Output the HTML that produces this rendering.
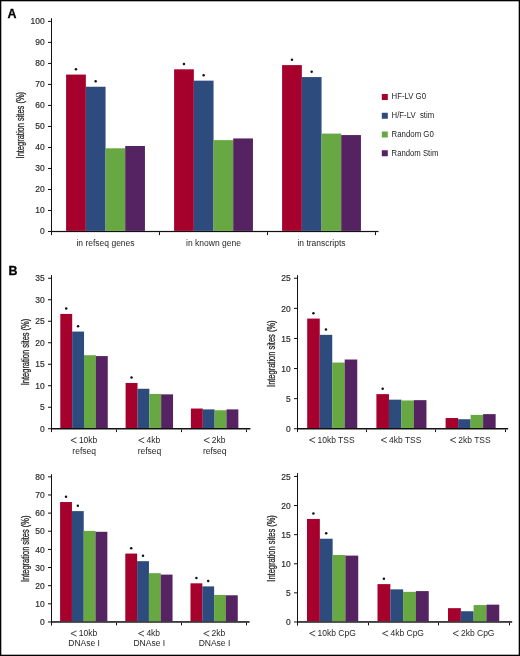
<!DOCTYPE html>
<html><head><meta charset="utf-8"><title>Figure</title>
<style>
html,body{margin:0;padding:0;background:#fff;}
body{width:520px;height:656px;overflow:hidden;position:relative;}
svg{filter:blur(0.35px);position:absolute;left:0;top:0;display:block;font-family:"Liberation Sans", sans-serif;}
</style></head>
<body>
<svg width="520" height="656" viewBox="0 0 520 656">
<rect x="0" y="0" width="520" height="656" fill="#fff"/>
<rect x="51.00" y="18.20" width="1.00" height="216.70" fill="#111"/>
<rect x="51.00" y="230.90" width="327.50" height="1.20" fill="#111"/>
<rect x="48.00" y="231.00" width="3.00" height="1.00" fill="#111"/>
<text x="0" y="0" font-size="9" text-anchor="end" fill="#2a2a2a" stroke="#2a2a2a" stroke-width="0.18" transform="translate(44.70,234.00) scale(0.94,1)">0</text>
<rect x="48.00" y="209.99" width="3.00" height="1.00" fill="#111"/>
<text x="0" y="0" font-size="9" text-anchor="end" fill="#2a2a2a" stroke="#2a2a2a" stroke-width="0.18" transform="translate(44.70,212.99) scale(0.94,1)">10</text>
<rect x="48.00" y="188.98" width="3.00" height="1.00" fill="#111"/>
<text x="0" y="0" font-size="9" text-anchor="end" fill="#2a2a2a" stroke="#2a2a2a" stroke-width="0.18" transform="translate(44.70,191.98) scale(0.94,1)">20</text>
<rect x="48.00" y="167.97" width="3.00" height="1.00" fill="#111"/>
<text x="0" y="0" font-size="9" text-anchor="end" fill="#2a2a2a" stroke="#2a2a2a" stroke-width="0.18" transform="translate(44.70,170.97) scale(0.94,1)">30</text>
<rect x="48.00" y="146.96" width="3.00" height="1.00" fill="#111"/>
<text x="0" y="0" font-size="9" text-anchor="end" fill="#2a2a2a" stroke="#2a2a2a" stroke-width="0.18" transform="translate(44.70,149.96) scale(0.94,1)">40</text>
<rect x="48.00" y="125.95" width="3.00" height="1.00" fill="#111"/>
<text x="0" y="0" font-size="9" text-anchor="end" fill="#2a2a2a" stroke="#2a2a2a" stroke-width="0.18" transform="translate(44.70,128.95) scale(0.94,1)">50</text>
<rect x="48.00" y="104.94" width="3.00" height="1.00" fill="#111"/>
<text x="0" y="0" font-size="9" text-anchor="end" fill="#2a2a2a" stroke="#2a2a2a" stroke-width="0.18" transform="translate(44.70,107.94) scale(0.94,1)">60</text>
<rect x="48.00" y="83.93" width="3.00" height="1.00" fill="#111"/>
<text x="0" y="0" font-size="9" text-anchor="end" fill="#2a2a2a" stroke="#2a2a2a" stroke-width="0.18" transform="translate(44.70,86.93) scale(0.94,1)">70</text>
<rect x="48.00" y="62.92" width="3.00" height="1.00" fill="#111"/>
<text x="0" y="0" font-size="9" text-anchor="end" fill="#2a2a2a" stroke="#2a2a2a" stroke-width="0.18" transform="translate(44.70,65.92) scale(0.94,1)">80</text>
<rect x="48.00" y="41.91" width="3.00" height="1.00" fill="#111"/>
<text x="0" y="0" font-size="9" text-anchor="end" fill="#2a2a2a" stroke="#2a2a2a" stroke-width="0.18" transform="translate(44.70,44.91) scale(0.94,1)">90</text>
<rect x="48.00" y="20.90" width="3.00" height="1.00" fill="#111"/>
<text x="0" y="0" font-size="9" text-anchor="end" fill="#2a2a2a" stroke="#2a2a2a" stroke-width="0.18" transform="translate(44.70,23.90) scale(0.94,1)">100</text>
<rect x="51.00" y="232.10" width="1.00" height="3.00" fill="#111"/>
<rect x="159.00" y="232.10" width="1.00" height="3.00" fill="#111"/>
<rect x="267.00" y="232.10" width="1.00" height="3.00" fill="#111"/>
<rect x="375.00" y="232.10" width="1.00" height="3.00" fill="#111"/>
<rect x="66.10" y="74.56" width="19.75" height="156.34" fill="#a6002c"/>
<rect x="85.80" y="86.74" width="19.75" height="144.16" fill="#2e4b7e"/>
<rect x="105.50" y="148.30" width="19.75" height="82.60" fill="#68a843"/>
<rect x="125.20" y="145.99" width="19.75" height="84.91" fill="#552262"/>
<circle cx="75.95" cy="69.16" r="1.25" fill="#111"/>
<circle cx="95.65" cy="81.34" r="1.25" fill="#111"/>
<rect x="174.10" y="69.30" width="19.75" height="161.60" fill="#a6002c"/>
<rect x="193.80" y="80.65" width="19.75" height="150.25" fill="#2e4b7e"/>
<rect x="213.50" y="140.11" width="19.75" height="90.79" fill="#68a843"/>
<rect x="233.20" y="138.43" width="19.75" height="92.47" fill="#552262"/>
<circle cx="183.95" cy="63.90" r="1.25" fill="#111"/>
<circle cx="203.65" cy="75.25" r="1.25" fill="#111"/>
<rect x="282.10" y="65.10" width="19.75" height="165.80" fill="#a6002c"/>
<rect x="301.80" y="77.08" width="19.75" height="153.82" fill="#2e4b7e"/>
<rect x="321.50" y="133.59" width="19.75" height="97.31" fill="#68a843"/>
<rect x="341.20" y="135.06" width="19.75" height="95.84" fill="#552262"/>
<circle cx="291.95" cy="59.70" r="1.25" fill="#111"/>
<circle cx="311.65" cy="71.68" r="1.25" fill="#111"/>
<text x="105.50" y="245.60" font-size="8.5" text-anchor="middle" fill="#262626" >in refseq genes</text>
<text x="213.50" y="245.60" font-size="8.5" text-anchor="middle" fill="#262626" >in known gene</text>
<text x="321.50" y="245.60" font-size="8.5" text-anchor="middle" fill="#262626" >in transcripts</text>
<text x="0" y="0" font-size="10" text-anchor="middle" fill="#262626" stroke="#262626" stroke-width="0.28" textLength="66.5" lengthAdjust="spacingAndGlyphs" transform="translate(24.00,125.20) rotate(-90)">Integration sites (%)</text>
<rect x="51.00" y="275.10" width="1.00" height="156.90" fill="#111"/>
<rect x="51.00" y="428.00" width="199.40" height="1.50" fill="#111"/>
<rect x="48.00" y="428.25" width="3.00" height="1.00" fill="#111"/>
<text x="0" y="0" font-size="9" text-anchor="end" fill="#2a2a2a" stroke="#2a2a2a" stroke-width="0.18" transform="translate(44.70,431.95) scale(0.94,1)">0</text>
<rect x="48.00" y="406.75" width="3.00" height="1.00" fill="#111"/>
<text x="0" y="0" font-size="9" text-anchor="end" fill="#2a2a2a" stroke="#2a2a2a" stroke-width="0.18" transform="translate(44.70,410.45) scale(0.94,1)">5</text>
<rect x="48.00" y="385.25" width="3.00" height="1.00" fill="#111"/>
<text x="0" y="0" font-size="9" text-anchor="end" fill="#2a2a2a" stroke="#2a2a2a" stroke-width="0.18" transform="translate(44.70,388.95) scale(0.94,1)">10</text>
<rect x="48.00" y="363.75" width="3.00" height="1.00" fill="#111"/>
<text x="0" y="0" font-size="9" text-anchor="end" fill="#2a2a2a" stroke="#2a2a2a" stroke-width="0.18" transform="translate(44.70,367.45) scale(0.94,1)">15</text>
<rect x="48.00" y="342.25" width="3.00" height="1.00" fill="#111"/>
<text x="0" y="0" font-size="9" text-anchor="end" fill="#2a2a2a" stroke="#2a2a2a" stroke-width="0.18" transform="translate(44.70,345.95) scale(0.94,1)">20</text>
<rect x="48.00" y="320.75" width="3.00" height="1.00" fill="#111"/>
<text x="0" y="0" font-size="9" text-anchor="end" fill="#2a2a2a" stroke="#2a2a2a" stroke-width="0.18" transform="translate(44.70,324.45) scale(0.94,1)">25</text>
<rect x="48.00" y="299.25" width="3.00" height="1.00" fill="#111"/>
<text x="0" y="0" font-size="9" text-anchor="end" fill="#2a2a2a" stroke="#2a2a2a" stroke-width="0.18" transform="translate(44.70,302.95) scale(0.94,1)">30</text>
<rect x="48.00" y="277.75" width="3.00" height="1.00" fill="#111"/>
<text x="0" y="0" font-size="9" text-anchor="end" fill="#2a2a2a" stroke="#2a2a2a" stroke-width="0.18" transform="translate(44.70,281.45) scale(0.94,1)">35</text>
<rect x="51.00" y="429.50" width="1.00" height="2.60" fill="#111"/>
<rect x="116.00" y="429.50" width="1.00" height="2.60" fill="#111"/>
<rect x="181.00" y="429.50" width="1.00" height="2.60" fill="#111"/>
<rect x="246.00" y="429.50" width="1.00" height="2.60" fill="#111"/>
<rect x="60.30" y="313.94" width="11.90" height="114.06" fill="#a6002c"/>
<rect x="72.15" y="331.57" width="11.90" height="96.43" fill="#2e4b7e"/>
<rect x="84.00" y="355.22" width="11.90" height="72.78" fill="#68a843"/>
<rect x="95.85" y="356.08" width="11.90" height="71.92" fill="#552262"/>
<circle cx="66.22" cy="308.54" r="1.25" fill="#111"/>
<circle cx="78.07" cy="326.17" r="1.25" fill="#111"/>
<rect x="125.60" y="382.95" width="11.90" height="45.05" fill="#a6002c"/>
<rect x="137.45" y="388.76" width="11.90" height="39.24" fill="#2e4b7e"/>
<rect x="149.30" y="393.92" width="11.90" height="34.08" fill="#68a843"/>
<rect x="161.15" y="394.35" width="11.90" height="33.65" fill="#552262"/>
<circle cx="131.53" cy="377.56" r="1.25" fill="#111"/>
<rect x="190.90" y="408.54" width="11.90" height="19.46" fill="#a6002c"/>
<rect x="202.75" y="409.40" width="11.90" height="18.60" fill="#2e4b7e"/>
<rect x="214.60" y="410.26" width="11.90" height="17.74" fill="#68a843"/>
<rect x="226.45" y="409.40" width="11.90" height="18.60" fill="#552262"/>
<path d="M76.58,437.70 L70.98,440.30 L76.58,442.90" fill="none" stroke="#262626" stroke-width="0.85" stroke-linejoin="miter"/>
<text x="78.88" y="442.90" font-size="8.5" text-anchor="start" fill="#262626" >10kb</text>
<text x="84.15" y="453.70" font-size="8.5" text-anchor="middle" fill="#262626" >refseq</text>
<path d="M144.25,437.70 L138.65,440.30 L144.25,442.90" fill="none" stroke="#262626" stroke-width="0.85" stroke-linejoin="miter"/>
<text x="146.55" y="442.90" font-size="8.5" text-anchor="start" fill="#262626" >4kb</text>
<text x="149.45" y="453.70" font-size="8.5" text-anchor="middle" fill="#262626" >refseq</text>
<path d="M209.55,437.70 L203.95,440.30 L209.55,442.90" fill="none" stroke="#262626" stroke-width="0.85" stroke-linejoin="miter"/>
<text x="211.85" y="442.90" font-size="8.5" text-anchor="start" fill="#262626" >2kb</text>
<text x="214.75" y="453.70" font-size="8.5" text-anchor="middle" fill="#262626" >refseq</text>
<text x="0" y="0" font-size="10" text-anchor="middle" fill="#262626" stroke="#262626" stroke-width="0.28" textLength="66.5" lengthAdjust="spacingAndGlyphs" transform="translate(29.20,352.00) rotate(-90)">Integration sites (%)</text>
<rect x="297.00" y="275.20" width="1.00" height="156.80" fill="#111"/>
<rect x="297.00" y="428.00" width="211.10" height="1.50" fill="#111"/>
<rect x="294.00" y="428.25" width="3.00" height="1.00" fill="#111"/>
<text x="0" y="0" font-size="9" text-anchor="end" fill="#2a2a2a" stroke="#2a2a2a" stroke-width="0.18" transform="translate(290.70,431.95) scale(0.94,1)">0</text>
<rect x="294.00" y="398.15" width="3.00" height="1.00" fill="#111"/>
<text x="0" y="0" font-size="9" text-anchor="end" fill="#2a2a2a" stroke="#2a2a2a" stroke-width="0.18" transform="translate(290.70,401.85) scale(0.94,1)">5</text>
<rect x="294.00" y="368.05" width="3.00" height="1.00" fill="#111"/>
<text x="0" y="0" font-size="9" text-anchor="end" fill="#2a2a2a" stroke="#2a2a2a" stroke-width="0.18" transform="translate(290.70,371.75) scale(0.94,1)">10</text>
<rect x="294.00" y="337.95" width="3.00" height="1.00" fill="#111"/>
<text x="0" y="0" font-size="9" text-anchor="end" fill="#2a2a2a" stroke="#2a2a2a" stroke-width="0.18" transform="translate(290.70,341.65) scale(0.94,1)">15</text>
<rect x="294.00" y="307.85" width="3.00" height="1.00" fill="#111"/>
<text x="0" y="0" font-size="9" text-anchor="end" fill="#2a2a2a" stroke="#2a2a2a" stroke-width="0.18" transform="translate(290.70,311.55) scale(0.94,1)">20</text>
<rect x="294.00" y="277.75" width="3.00" height="1.00" fill="#111"/>
<text x="0" y="0" font-size="9" text-anchor="end" fill="#2a2a2a" stroke="#2a2a2a" stroke-width="0.18" transform="translate(290.70,281.45) scale(0.94,1)">25</text>
<rect x="297.00" y="429.50" width="1.00" height="2.60" fill="#111"/>
<rect x="366.00" y="429.50" width="1.00" height="2.60" fill="#111"/>
<rect x="435.00" y="429.50" width="1.00" height="2.60" fill="#111"/>
<rect x="505.00" y="429.50" width="1.00" height="2.60" fill="#111"/>
<rect x="307.20" y="318.58" width="12.55" height="109.42" fill="#a6002c"/>
<rect x="319.70" y="334.84" width="12.55" height="93.16" fill="#2e4b7e"/>
<rect x="332.20" y="362.53" width="12.55" height="65.47" fill="#68a843"/>
<rect x="344.70" y="359.52" width="12.55" height="68.48" fill="#552262"/>
<circle cx="313.45" cy="313.18" r="1.25" fill="#111"/>
<circle cx="325.95" cy="329.44" r="1.25" fill="#111"/>
<rect x="376.40" y="394.13" width="12.55" height="33.87" fill="#a6002c"/>
<rect x="388.90" y="399.67" width="12.55" height="28.33" fill="#2e4b7e"/>
<rect x="401.40" y="400.46" width="12.55" height="27.54" fill="#68a843"/>
<rect x="413.90" y="400.15" width="12.55" height="27.85" fill="#552262"/>
<circle cx="382.65" cy="388.74" r="1.25" fill="#111"/>
<rect x="445.60" y="418.03" width="12.55" height="9.97" fill="#a6002c"/>
<rect x="458.10" y="419.24" width="12.55" height="8.76" fill="#2e4b7e"/>
<rect x="470.60" y="414.90" width="12.55" height="13.10" fill="#68a843"/>
<rect x="483.10" y="414.12" width="12.55" height="13.88" fill="#552262"/>
<path d="M315.16,437.40 L309.56,440.00 L315.16,442.60" fill="none" stroke="#262626" stroke-width="0.85" stroke-linejoin="miter"/>
<text x="317.46" y="442.60" font-size="8.5" text-anchor="start" fill="#262626" >10kb TSS</text>
<path d="M386.73,437.40 L381.13,440.00 L386.73,442.60" fill="none" stroke="#262626" stroke-width="0.85" stroke-linejoin="miter"/>
<text x="389.03" y="442.60" font-size="8.5" text-anchor="start" fill="#262626" >4kb TSS</text>
<path d="M455.93,437.40 L450.33,440.00 L455.93,442.60" fill="none" stroke="#262626" stroke-width="0.85" stroke-linejoin="miter"/>
<text x="458.23" y="442.60" font-size="8.5" text-anchor="start" fill="#262626" >2kb TSS</text>
<text x="0" y="0" font-size="10" text-anchor="middle" fill="#262626" stroke="#262626" stroke-width="0.28" textLength="66.5" lengthAdjust="spacingAndGlyphs" transform="translate(275.30,353.70) rotate(-90)">Integration sites (%)</text>
<rect x="51.00" y="474.20" width="1.00" height="151.20" fill="#111"/>
<rect x="51.00" y="621.20" width="198.60" height="1.50" fill="#111"/>
<rect x="48.00" y="621.45" width="3.00" height="1.00" fill="#111"/>
<text x="0" y="0" font-size="9" text-anchor="end" fill="#2a2a2a" stroke="#2a2a2a" stroke-width="0.18" transform="translate(44.70,625.15) scale(0.94,1)">0</text>
<rect x="48.00" y="603.31" width="3.00" height="1.00" fill="#111"/>
<text x="0" y="0" font-size="9" text-anchor="end" fill="#2a2a2a" stroke="#2a2a2a" stroke-width="0.18" transform="translate(44.70,607.01) scale(0.94,1)">10</text>
<rect x="48.00" y="585.17" width="3.00" height="1.00" fill="#111"/>
<text x="0" y="0" font-size="9" text-anchor="end" fill="#2a2a2a" stroke="#2a2a2a" stroke-width="0.18" transform="translate(44.70,588.87) scale(0.94,1)">20</text>
<rect x="48.00" y="567.03" width="3.00" height="1.00" fill="#111"/>
<text x="0" y="0" font-size="9" text-anchor="end" fill="#2a2a2a" stroke="#2a2a2a" stroke-width="0.18" transform="translate(44.70,570.73) scale(0.94,1)">30</text>
<rect x="48.00" y="548.89" width="3.00" height="1.00" fill="#111"/>
<text x="0" y="0" font-size="9" text-anchor="end" fill="#2a2a2a" stroke="#2a2a2a" stroke-width="0.18" transform="translate(44.70,552.59) scale(0.94,1)">40</text>
<rect x="48.00" y="530.75" width="3.00" height="1.00" fill="#111"/>
<text x="0" y="0" font-size="9" text-anchor="end" fill="#2a2a2a" stroke="#2a2a2a" stroke-width="0.18" transform="translate(44.70,534.45) scale(0.94,1)">50</text>
<rect x="48.00" y="512.61" width="3.00" height="1.00" fill="#111"/>
<text x="0" y="0" font-size="9" text-anchor="end" fill="#2a2a2a" stroke="#2a2a2a" stroke-width="0.18" transform="translate(44.70,516.31) scale(0.94,1)">60</text>
<rect x="48.00" y="494.47" width="3.00" height="1.00" fill="#111"/>
<text x="0" y="0" font-size="9" text-anchor="end" fill="#2a2a2a" stroke="#2a2a2a" stroke-width="0.18" transform="translate(44.70,498.17) scale(0.94,1)">70</text>
<rect x="48.00" y="476.33" width="3.00" height="1.00" fill="#111"/>
<text x="0" y="0" font-size="9" text-anchor="end" fill="#2a2a2a" stroke="#2a2a2a" stroke-width="0.18" transform="translate(44.70,480.03) scale(0.94,1)">80</text>
<rect x="51.00" y="622.70" width="1.00" height="2.60" fill="#111"/>
<rect x="116.00" y="622.70" width="1.00" height="2.60" fill="#111"/>
<rect x="181.00" y="622.70" width="1.00" height="2.60" fill="#111"/>
<rect x="246.00" y="622.70" width="1.00" height="2.60" fill="#111"/>
<rect x="60.10" y="502.04" width="11.85" height="119.16" fill="#a6002c"/>
<rect x="71.90" y="511.11" width="11.85" height="110.09" fill="#2e4b7e"/>
<rect x="83.70" y="530.89" width="11.85" height="90.31" fill="#68a843"/>
<rect x="95.50" y="531.79" width="11.85" height="89.41" fill="#552262"/>
<circle cx="66.00" cy="496.64" r="1.25" fill="#111"/>
<circle cx="77.80" cy="505.71" r="1.25" fill="#111"/>
<rect x="125.30" y="553.56" width="11.85" height="67.64" fill="#a6002c"/>
<rect x="137.10" y="561.18" width="11.85" height="60.02" fill="#2e4b7e"/>
<rect x="148.90" y="573.15" width="11.85" height="48.05" fill="#68a843"/>
<rect x="160.70" y="574.60" width="11.85" height="46.60" fill="#552262"/>
<circle cx="131.20" cy="548.16" r="1.25" fill="#111"/>
<circle cx="143.00" cy="555.78" r="1.25" fill="#111"/>
<rect x="190.50" y="583.31" width="11.85" height="37.89" fill="#a6002c"/>
<rect x="202.30" y="586.40" width="11.85" height="34.80" fill="#2e4b7e"/>
<rect x="214.10" y="594.92" width="11.85" height="26.28" fill="#68a843"/>
<rect x="225.90" y="595.28" width="11.85" height="25.92" fill="#552262"/>
<circle cx="196.40" cy="577.91" r="1.25" fill="#111"/>
<circle cx="208.20" cy="581.00" r="1.25" fill="#111"/>
<path d="M76.53,630.90 L70.93,633.50 L76.53,636.10" fill="none" stroke="#262626" stroke-width="0.85" stroke-linejoin="miter"/>
<text x="78.83" y="636.10" font-size="8.5" text-anchor="start" fill="#262626" >10kb</text>
<text x="84.10" y="646.20" font-size="8.5" text-anchor="middle" fill="#262626" >DNAse I</text>
<path d="M144.10,630.90 L138.50,633.50 L144.10,636.10" fill="none" stroke="#262626" stroke-width="0.85" stroke-linejoin="miter"/>
<text x="146.40" y="636.10" font-size="8.5" text-anchor="start" fill="#262626" >4kb</text>
<text x="149.30" y="646.20" font-size="8.5" text-anchor="middle" fill="#262626" >DNAse I</text>
<path d="M209.30,630.90 L203.70,633.50 L209.30,636.10" fill="none" stroke="#262626" stroke-width="0.85" stroke-linejoin="miter"/>
<text x="211.60" y="636.10" font-size="8.5" text-anchor="start" fill="#262626" >2kb</text>
<text x="214.50" y="646.20" font-size="8.5" text-anchor="middle" fill="#262626" >DNAse I</text>
<text x="0" y="0" font-size="10" text-anchor="middle" fill="#262626" stroke="#262626" stroke-width="0.28" textLength="66.5" lengthAdjust="spacingAndGlyphs" transform="translate(29.20,548.80) rotate(-90)">Integration sites (%)</text>
<rect x="297.00" y="473.10" width="1.00" height="152.30" fill="#111"/>
<rect x="297.00" y="621.20" width="215.20" height="1.50" fill="#111"/>
<rect x="294.00" y="621.45" width="3.00" height="1.00" fill="#111"/>
<text x="0" y="0" font-size="9" text-anchor="end" fill="#2a2a2a" stroke="#2a2a2a" stroke-width="0.18" transform="translate(290.70,625.15) scale(0.94,1)">0</text>
<rect x="294.00" y="592.35" width="3.00" height="1.00" fill="#111"/>
<text x="0" y="0" font-size="9" text-anchor="end" fill="#2a2a2a" stroke="#2a2a2a" stroke-width="0.18" transform="translate(290.70,596.05) scale(0.94,1)">5</text>
<rect x="294.00" y="563.25" width="3.00" height="1.00" fill="#111"/>
<text x="0" y="0" font-size="9" text-anchor="end" fill="#2a2a2a" stroke="#2a2a2a" stroke-width="0.18" transform="translate(290.70,566.95) scale(0.94,1)">10</text>
<rect x="294.00" y="534.15" width="3.00" height="1.00" fill="#111"/>
<text x="0" y="0" font-size="9" text-anchor="end" fill="#2a2a2a" stroke="#2a2a2a" stroke-width="0.18" transform="translate(290.70,537.85) scale(0.94,1)">15</text>
<rect x="294.00" y="505.05" width="3.00" height="1.00" fill="#111"/>
<text x="0" y="0" font-size="9" text-anchor="end" fill="#2a2a2a" stroke="#2a2a2a" stroke-width="0.18" transform="translate(290.70,508.75) scale(0.94,1)">20</text>
<rect x="294.00" y="475.95" width="3.00" height="1.00" fill="#111"/>
<text x="0" y="0" font-size="9" text-anchor="end" fill="#2a2a2a" stroke="#2a2a2a" stroke-width="0.18" transform="translate(290.70,479.65) scale(0.94,1)">25</text>
<rect x="297.00" y="622.70" width="1.00" height="2.60" fill="#111"/>
<rect x="368.00" y="622.70" width="1.00" height="2.60" fill="#111"/>
<rect x="438.00" y="622.70" width="1.00" height="2.60" fill="#111"/>
<rect x="509.00" y="622.70" width="1.00" height="2.60" fill="#111"/>
<rect x="307.00" y="518.94" width="12.85" height="102.26" fill="#a6002c"/>
<rect x="319.80" y="538.72" width="12.85" height="82.48" fill="#2e4b7e"/>
<rect x="332.60" y="555.02" width="12.85" height="66.18" fill="#68a843"/>
<rect x="345.40" y="555.60" width="12.85" height="65.60" fill="#552262"/>
<circle cx="313.40" cy="513.54" r="1.25" fill="#111"/>
<circle cx="326.20" cy="533.32" r="1.25" fill="#111"/>
<rect x="377.50" y="584.12" width="12.85" height="37.08" fill="#a6002c"/>
<rect x="390.30" y="589.36" width="12.85" height="31.84" fill="#2e4b7e"/>
<rect x="403.10" y="591.86" width="12.85" height="29.34" fill="#68a843"/>
<rect x="415.90" y="591.10" width="12.85" height="30.10" fill="#552262"/>
<circle cx="383.90" cy="578.72" r="1.25" fill="#111"/>
<rect x="448.00" y="608.16" width="12.85" height="13.04" fill="#a6002c"/>
<rect x="460.80" y="611.24" width="12.85" height="9.96" fill="#2e4b7e"/>
<rect x="473.60" y="605.07" width="12.85" height="16.13" fill="#68a843"/>
<rect x="486.40" y="604.66" width="12.85" height="16.54" fill="#552262"/>
<path d="M315.26,630.80 L309.66,633.40 L315.26,636.00" fill="none" stroke="#262626" stroke-width="0.85" stroke-linejoin="miter"/>
<text x="317.56" y="636.00" font-size="8.5" text-anchor="start" fill="#262626" >10kb CpG</text>
<path d="M388.13,630.80 L382.53,633.40 L388.13,636.00" fill="none" stroke="#262626" stroke-width="0.85" stroke-linejoin="miter"/>
<text x="390.43" y="636.00" font-size="8.5" text-anchor="start" fill="#262626" >4kb CpG</text>
<path d="M458.63,630.80 L453.03,633.40 L458.63,636.00" fill="none" stroke="#262626" stroke-width="0.85" stroke-linejoin="miter"/>
<text x="460.93" y="636.00" font-size="8.5" text-anchor="start" fill="#262626" >2kb CpG</text>
<text x="0" y="0" font-size="10" text-anchor="middle" fill="#262626" stroke="#262626" stroke-width="0.28" textLength="66.5" lengthAdjust="spacingAndGlyphs" transform="translate(275.30,548.40) rotate(-90)">Integration sites (%)</text>
<text x="7.5" y="17.9" font-size="12.4" font-weight="bold" fill="#000" stroke="#000" stroke-width="0.3">A</text>
<text x="8.5" y="275.1" font-size="12.4" font-weight="bold" fill="#000" stroke="#000" stroke-width="0.3">B</text>
<rect x="381.80" y="94.00" width="6.00" height="6.00" fill="#a6002c"/>
<text x="391.60" y="99.40" font-size="8.3" text-anchor="start" fill="#1c1c1c" textLength="34.4" lengthAdjust="spacingAndGlyphs">HF-LV G0</text>
<rect x="381.80" y="112.75" width="6.00" height="6.00" fill="#2e4b7e"/>
<text x="391.60" y="118.15" font-size="8.3" text-anchor="start" fill="#1c1c1c" textLength="42.5" lengthAdjust="spacingAndGlyphs">H/F-LV  stim</text>
<rect x="381.80" y="131.50" width="6.00" height="6.00" fill="#68a843"/>
<text x="391.60" y="136.90" font-size="8.3" text-anchor="start" fill="#1c1c1c" textLength="42.2" lengthAdjust="spacingAndGlyphs">Random G0</text>
<rect x="381.80" y="150.25" width="6.00" height="6.00" fill="#552262"/>
<text x="391.60" y="155.65" font-size="8.3" text-anchor="start" fill="#1c1c1c" textLength="46.8" lengthAdjust="spacingAndGlyphs">Random Stim</text>
<rect x="0" y="0" width="520" height="1" fill="#000"/>
<rect x="0" y="655" width="520" height="1" fill="#000"/>
<rect x="0" y="0" width="1" height="656" fill="#000"/>
<rect x="519" y="0" width="1" height="656" fill="#000"/>
<rect x="1" y="1" width="518" height="0.6" fill="#000" opacity="0.5"/>
<rect x="1" y="654.4" width="518" height="0.6" fill="#000" opacity="0.5"/>
<rect x="1" y="1" width="0.6" height="654" fill="#000" opacity="0.5"/>
<rect x="518.4" y="1" width="0.6" height="654" fill="#000" opacity="0.5"/>
</svg>
</body></html>
